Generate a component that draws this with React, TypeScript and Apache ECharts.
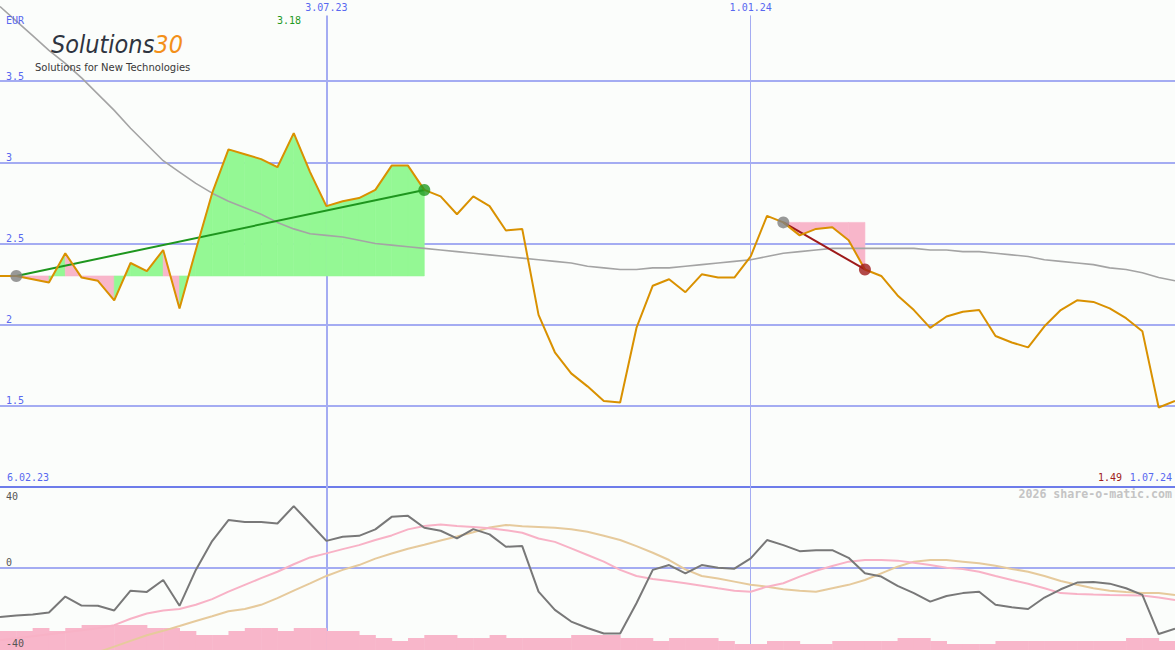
import React, { useEffect, useRef } from 'react';
import * as echarts from 'echarts';

// ---- labels ----
const dateTicks = ['3.07.23', '1.01.24'];
const dateTickIdx = [20, 46];
const startLabel = '6.02.23';
const endLabel = '1.07.24';
const currency = 'EUR';

// ---- weekly close (EUR) ----
const price = [
  2.30, 2.30, 2.28, 2.26, 2.44, 2.29, 2.27, 2.15, 2.38, 2.33,
  2.46, 2.10, 2.46, 2.81, 3.08, 3.05, 3.02, 2.97, 3.18, 2.94,
  2.73, 2.76, 2.78, 2.83, 2.98, 2.98, 2.83, 2.79, 2.68, 2.79,
  2.73, 2.58, 2.59, 2.06, 1.83, 1.70, 1.62, 1.53, 1.52, 1.98,
  2.24, 2.28, 2.20, 2.31, 2.29, 2.29, 2.42, 2.67, 2.63, 2.55,
  2.59, 2.60, 2.52, 2.34, 2.30, 2.18, 2.09, 1.98, 2.05, 2.08,
  2.09, 1.93, 1.89, 1.86, 1.99, 2.09, 2.15, 2.14, 2.10, 2.04,
  1.96, 1.49, 1.53,
];

// ---- long moving average ----
const movingAvg = [
  3.96, 3.87, 3.78, 3.69, 3.61, 3.52, 3.42, 3.32, 3.21, 3.11,
  3.01, 2.94, 2.87, 2.81, 2.76, 2.72, 2.68, 2.63, 2.59, 2.56,
  2.55, 2.54, 2.52, 2.50, 2.49, 2.48, 2.47, 2.46, 2.45, 2.44,
  2.43, 2.42, 2.41, 2.40, 2.39, 2.38, 2.36, 2.35, 2.34, 2.34,
  2.35, 2.35, 2.36, 2.37, 2.38, 2.39, 2.40, 2.42, 2.44, 2.45,
  2.46, 2.47, 2.47, 2.47, 2.47, 2.47, 2.47, 2.46, 2.46, 2.45,
  2.45, 2.44, 2.43, 2.42, 2.40, 2.39, 2.38, 2.37, 2.35, 2.34,
  2.32, 2.29, 2.27,
];

// ---- oscillator panel ----
const oscillator = [
  -24.5, -23.7, -23.2, -22.2, -14.3, -18.8, -18.9, -21.2, -11.4, -12.0,
  -6.1, -18.9, -1.1, 13.2, 23.6, 22.7, 22.7, 21.9, 30.5, 21.9,
  13.3, 15.3, 15.8, 19.0, 25.2, 25.7, 19.8, 18.3, 14.5, 19.1,
  16.5, 10.4, 10.7, -11.9, -20.9, -26.7, -29.9, -32.6, -32.6, -17.6,
  -1.1, 1.3, -2.8, 1.3, 0, -0.5, 4.6, 13.7, 11.2, 8.2,
  8.7, 8.7, 4.9, -2.8, -4.4, -9.0, -12.6, -16.8, -14.0, -12.6,
  -11.9, -18.4, -19.6, -20.5, -14.8, -10.7, -7.4, -7.1, -7.9, -10.2,
  -13.5, -32.9, -30.3,
];
const oscFast = [
  -36, -35, -34, -33, -32, -31, -30, -28.5, -25.3, -22.7,
  -21.2, -20.5, -18.4, -15.6, -11.9, -8.5, -5.2, -2.0, 1.7, 5.1,
  7.1, 9.2, 11.2, 13.7, 16.0, 19.0, 20.7, 21.4, 20.7, 20.2,
  19.5, 18.6, 17.3, 14.5, 12.8, 9.6, 6.3, 3.0, -1.1, -4.1,
  -5.6, -6.6, -7.7, -8.9, -10.2, -11.4, -11.9, -9.4, -7.7, -4.4,
  -1.5, 0.8, 3.0, 3.8, 3.8, 3.5, 2.5, 1.3, 0, -0.6,
  -2.0, -4.1, -6.1, -8.0, -10.2, -12.6, -13.0, -13.3, -13.5, -13.6,
  -13.8, -14.8, -16.0,
];
const oscSlow = [
  null, null, null, null, null, null, -41.9, -39.1, -36.3, -33.5,
  -31.3, -28.9, -26.4, -24.1, -21.6, -20.5, -18.4, -15.1, -11.4, -7.8,
  -4.1, -1.1, 1.3, 4.5, 7.0, 9.4, 11.4, 13.5, 15.5, 17.6,
  19.9, 21.2, 20.6, 20.2, 19.8, 19.1, 17.8, 15.8, 13.7, 10.7,
  7.4, 3.8, -0.8, -4.1, -5.4, -6.9, -8.5, -9.4, -10.7, -11.4,
  -11.9, -10.2, -8.5, -6.1, -2.8, 0.5, 3.0, 3.8, 3.8, 3.0,
  2.2, 1.0, -0.6, -2.0, -4.1, -6.6, -8.5, -10.2, -11.4, -12.1,
  -12.6, -12.6, -13.5,
];
// relative weekly volume
const volume = [
  19, 19, 22, 19, 22, 25, 25, 25, 25, 22,
  22, 19, 15, 15, 19, 22, 22, 19, 22, 22,
  19, 19, 15, 12, 9, 12, 15, 15, 12, 12,
  15, 12, 12, 12, 12, 15, 15, 15, 12, 12,
  9, 12, 12, 12, 9, 6, 6, 9, 9, 6,
  6, 9, 9, 9, 9, 12, 12, 9, 6, 6,
  6, 9, 9, 9, 9, 9, 9, 9, 9, 12,
  12, 9,
];

// ---- trend segments (start index, end index) ----
const upTrend = [1, 26];
const downTrend = [48, 53];

const BG = '#fbfdfb';
const GRID = '#a4acf2';
const BORDER = '#6d7cea';
const BLUE_TXT = '#5868f0';
const MONO = '"DejaVu Sans Mono", monospace';
const GREEN_FILL = '#94f894';
const PINK = '#f8b6ca';
const LOGO_FONT = '"DejaVu Sans Condensed", "Liberation Sans Narrow", "DejaVu Sans"';

export default function App() {
  const ref = useRef<HTMLDivElement>(null);
  useEffect(() => {
    const el = ref.current as HTMLDivElement;
    const chart = echarts.init(el, null, { renderer: 'svg' });
    const N = price.length - 1;

    const fillData = (range: number[]) => {
      const base = price[range[0]];
      const out: number[][] = [];
      for (let k = range[0]; k < range[1]; k++) out.push([k, price[k], price[k + 1], base]);
      return out;
    };
    const fillItems = [...fillData(upTrend), ...fillData(downTrend)];
    const maxP = Math.max(...price);
    const minP = Math.min(...price);

    const txt = (text: string, x: number, y: number, fill: string, align = 'left', extra: any = {}) => ({
      type: 'text',
      silent: true,
      z: 100,
      style: {
        text, x, y, fill,
        font: '10px "DejaVu Sans Mono"',
        textAlign: align, align,
        textVerticalAlign: 'top', verticalAlign: 'top',
        ...extra,
      },
    });

    const option: any = {
      animation: false,
      backgroundColor: BG,
      grid: [
        { left: 0, right: 0, top: 0, height: 487 },
        { left: 0, right: 0, top: 487, height: 163 },
        { left: 0, right: 0, top: 487, height: 163 },
      ],
      xAxis: [0, 1, 2].map((i) => ({ type: 'value', gridIndex: i, min: 0, max: N, show: false })),
      yAxis: [
        {
          type: 'value', gridIndex: 0, min: 1, max: 4, interval: 0.5,
          axisLine: { show: false }, axisTick: { show: false },
          axisLabel: {
            inside: true, margin: 6, showMinLabel: false, showMaxLabel: false,
            color: BLUE_TXT, fontFamily: MONO, fontSize: 10, verticalAlign: 'bottom',
            formatter: (v: number) => String(v),
          },
          splitLine: {
            show: true, showMaxLine: false,
            lineStyle: { width: 2, color: [BORDER, GRID, GRID, GRID, GRID, GRID, 'rgba(0,0,0,0)'] },
          },
        },
        {
          type: 'value', gridIndex: 1, min: -40.8, max: 40, z: 20,
          axisLine: { show: false }, axisTick: { show: false }, splitLine: { show: false },
          axisLabel: {
            inside: true, margin: 6, customValues: [-40, 0],
            color: '#555', fontFamily: MONO, fontSize: 10, verticalAlign: 'bottom',
          },
        },
        { type: 'value', gridIndex: 2, min: 0, max: 163, show: false },
      ],
      series: [
        {
          name: 'refTop', type: 'line', xAxisIndex: 0, yAxisIndex: 0, data: [], z: 1,
          markLine: {
            z: 1, silent: true, symbol: ['none', 'none'], animation: false,
            label: { show: true, position: 'start', formatter: '{b}', color: BLUE_TXT, fontFamily: MONO, fontSize: 10, distance: 3 },
            data: dateTickIdx.map((k, i) => [
              { name: dateTicks[i], coord: [k, 3.905], lineStyle: { color: GRID, width: i === 0 ? 2 : 1, type: 'solid' } },
              { coord: [k, 1] },
            ]),
          },
        },
        {
          name: 'refBottom', type: 'line', xAxisIndex: 2, yAxisIndex: 2, data: [], z: 1,
          markLine: {
            z: 1, silent: true, symbol: ['none', 'none'], animation: false,
            label: { show: false },
            data: dateTickIdx.map((k, i) => [
              { coord: [k, 163], lineStyle: { color: GRID, width: i === 0 ? 2 : 1, type: 'solid' } },
              { coord: [k, 0] },
            ]),
          },
        },
        {
          name: 'zeroLine', type: 'line', xAxisIndex: 1, yAxisIndex: 1, data: [], z: 1,
          markLine: {
            z: 1, silent: true, symbol: ['none', 'none'], animation: false,
            label: { show: false },
            lineStyle: { color: GRID, width: 2, type: 'solid' },
            data: [{ yAxis: 0 }],
          },
        },
        {
          name: 'volume', type: 'custom', xAxisIndex: 2, yAxisIndex: 2, z: 2,
          data: volume.map((v, k) => [k, v]),
          encode: { x: 0, y: 1 },
          renderItem: (params: any, api: any) => {
            const k = api.value(0);
            const v = api.value(1);
            const p0 = api.coord([k, v]);
            const p1 = api.coord([k + 1, 0]);
            return {
              type: 'rect',
              shape: { x: p0[0], y: p0[1], width: p1[0] - p0[0] + 0.5, height: p1[1] - p0[1] },
              style: { fill: PINK },
            };
          },
        },
        {
          name: 'trendFill', type: 'custom', xAxisIndex: 0, yAxisIndex: 0, z: 2,
          data: fillItems,
          encode: { x: 0, y: [1, 2, 3] },
          renderItem: (params: any, api: any) => {
            const k = api.value(0);
            const a = api.value(1);
            const b = api.value(2);
            const base = api.value(3);
            const col = b >= base ? GREEN_FILL : PINK;
            return {
              type: 'polygon',
              shape: { points: [api.coord([k, base]), api.coord([k, a]), api.coord([k + 1, b]), api.coord([k + 1, base])] },
              style: { fill: col, stroke: col, lineWidth: 0.6 },
            };
          },
        },
        {
          name: 'movingAvg', type: 'line', xAxisIndex: 0, yAxisIndex: 0, z: 3,
          data: movingAvg.map((v, k) => [k, v]), showSymbol: false,
          lineStyle: { color: '#a4a4a4', width: 1.6 },
        },
        {
          name: 'upTrend', type: 'line', xAxisIndex: 0, yAxisIndex: 0, z: 4,
          data: upTrend.map((k) => [k, price[k]]), showSymbol: false,
          lineStyle: { color: '#1e961e', width: 2 },
        },
        {
          name: 'downTrend', type: 'line', xAxisIndex: 0, yAxisIndex: 0, z: 4,
          data: downTrend.map((k) => [k, price[k]]), showSymbol: false,
          lineStyle: { color: '#9e1a1a', width: 2 },
        },
        {
          name: 'price', type: 'line', xAxisIndex: 0, yAxisIndex: 0, z: 5,
          data: price.map((v, k) => [k, v]), showSymbol: false,
          lineStyle: { color: '#d99100', width: 2 },
        },
        {
          name: 'markers', type: 'scatter', xAxisIndex: 0, yAxisIndex: 0, z: 6,
          symbolSize: 12,
          data: [
            { value: [upTrend[0], price[upTrend[0]]], itemStyle: { color: '#808080' } },
            { value: [upTrend[1], price[upTrend[1]]], itemStyle: { color: '#239b23' } },
            { value: [downTrend[0], price[downTrend[0]]], itemStyle: { color: '#808080' } },
            { value: [downTrend[1], price[downTrend[1]]], itemStyle: { color: '#a01c1c' } },
          ],
        },
        {
          name: 'oscSlow', type: 'line', xAxisIndex: 1, yAxisIndex: 1, z: 3,
          data: oscSlow.map((v, k) => [k, v]), showSymbol: false,
          lineStyle: { color: '#e6ca9c', width: 2 },
        },
        {
          name: 'oscFast', type: 'line', xAxisIndex: 1, yAxisIndex: 1, z: 4,
          data: oscFast.map((v, k) => [k, v]), showSymbol: false,
          lineStyle: { color: '#f8b2c6', width: 2 },
        },
        {
          name: 'oscillator', type: 'line', xAxisIndex: 1, yAxisIndex: 1, z: 5,
          data: oscillator.map((v, k) => [k, v]), showSymbol: false,
          lineStyle: { color: '#787878', width: 2 },
        },
      ],
      graphic: [
        txt(currency, 6, 15, BLUE_TXT),
        txt(maxP.toFixed(2), 289, 15, '#1f9a1f', 'center'),
        txt(startLabel, 7, 472, BLUE_TXT),
        txt(minP.toFixed(2), 1122, 472, '#a01c1c', 'right'),
        txt(endLabel, 1172, 472, BLUE_TXT, 'right'),
        txt('40', 6, 491, '#555'),
        txt('2026 share-o-matic.com', 1172, 488, '#c4c4c4', 'right', { font: 'bold 11.6px "DejaVu Sans Mono"' }),
        {
          type: 'text', silent: true, z: 100,
          style: {
            x: 51, y: 32,
            text: '{a|Solutions}{b|30}',
            textVerticalAlign: 'top', verticalAlign: 'top',
            rich: {
              a: { fontSize: 25, fontStyle: 'italic', fontFamily: LOGO_FONT, fill: '#2e3440', color: '#2e3440' },
              b: { fontSize: 25, fontStyle: 'italic', fontFamily: LOGO_FONT, fill: '#f39019', color: '#f39019' },
            },
          },
        },
        {
          type: 'text', silent: true, z: 100,
          style: {
            x: 35, y: 62, text: 'Solutions for New Technologies',
            font: '10px "DejaVu Sans"', fill: '#383838',
            textVerticalAlign: 'top', verticalAlign: 'top',
          },
        },
      ],
    };
    chart.setOption(option);
    return () => chart.dispose();
  }, []);
  return <div ref={ref} style={{ position: 'fixed', left: 0, top: 0, width: 1175, height: 650 }} />;
}
